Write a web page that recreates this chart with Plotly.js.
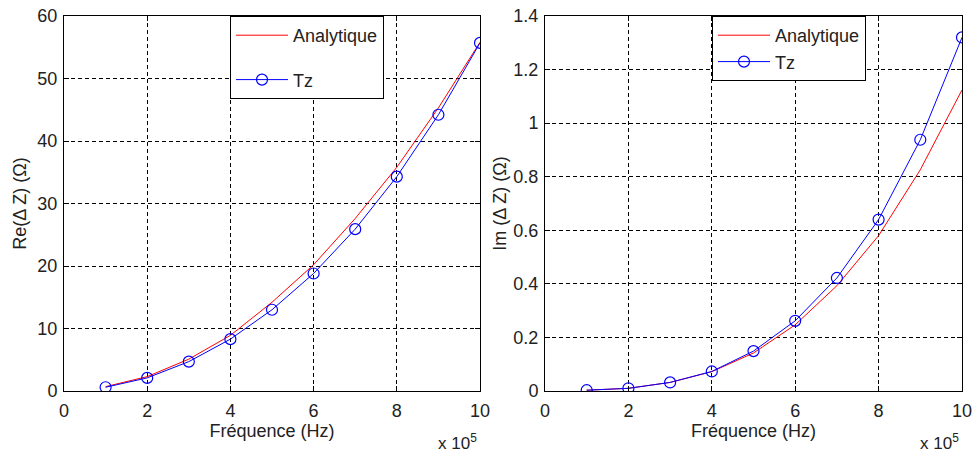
<!DOCTYPE html>
<html>
<head>
<meta charset="utf-8">
<script src="https://cdn.plot.ly/plotly-3.0.1.min.js"></script>
<style>html,body{margin:0;padding:0;background:#fff;}#chart{width:972px;height:457px;}</style>
</head>
<body>
<div id="chart"></div>
<script>
// Frequency in units of 10^5 Hz
const freq = [1, 2, 3, 4, 5, 6, 7, 8, 9, 10];
const reAnalytique = [0.7, 2.3, 5.1, 8.9, 14.2, 20.2, 27.6, 35.8, 45.3, 55.8];
const reTz = [0.6, 2.1, 4.7, 8.3, 13.0, 18.8, 25.9, 34.3, 44.2, 55.7];
const imAnalytique = [0.003, 0.01, 0.032, 0.072, 0.142, 0.247, 0.393, 0.58, 0.826, 1.124];
const imTz = [0.003, 0.01, 0.032, 0.073, 0.149, 0.262, 0.422, 0.64, 0.938, 1.32];
const xTicks = [0, 2, 4, 6, 8, 10];
const reTicks = [0, 10, 20, 30, 40, 50, 60];
const imTicks = [0, 0.2, 0.4, 0.6, 0.8, 1, 1.2, 1.4];
const imTickText = ['0', '0.2', '0.4', '0.6', '0.8', '1', '1.2', '1.4'];

const FONT = 'Liberation Sans, Arial, sans-serif';
const TXT = '#222';
const red = '#ff0000', blue = '#0000ff';

const traces = [
  {x: freq, y: reAnalytique, name: 'Analytique', mode: 'lines', line: {color: red, width: 1},
   xaxis: 'x', yaxis: 'y', legend: 'legend', legendgroup: 'a'},
  {x: freq, y: reTz, name: 'Tz', mode: 'lines+markers', line: {color: blue, width: 1},
   marker: {symbol: 'circle-open', size: 11, color: blue, line: {width: 1.2, color: blue}},
   xaxis: 'x', yaxis: 'y', legend: 'legend', legendgroup: 'b'},
  {x: freq, y: imAnalytique, name: 'Analytique', mode: 'lines', line: {color: red, width: 1},
   xaxis: 'x2', yaxis: 'y2', legend: 'legend2', legendgroup: 'c'},
  {x: freq, y: imTz, name: 'Tz', mode: 'lines+markers', line: {color: blue, width: 1},
   marker: {symbol: 'circle-open', size: 11, color: blue, line: {width: 1.2, color: blue}},
   xaxis: 'x2', yaxis: 'y2', legend: 'legend2', legendgroup: 'd'}
];

function xax(domain, anchor) {
  return {
    domain: domain, anchor: anchor, range: [0, 10], tickmode: 'array', tickvals: xTicks,
    ticks: 'inside', ticklen: 5, tickcolor: '#000', showline: true, linecolor: '#000', linewidth: 1, mirror: 'ticks',
    showgrid: true, gridcolor: '#000', griddash: '4px,3px', gridwidth: 1, zeroline: false,
    tickfont: {family: FONT, size: 18, color: TXT}, ticklabelstandoff: 3, automargin: false,
    ticklabeloverflow: 'allow',
    title: {text: 'Fréquence (Hz)', font: {family: FONT, size: 18, color: TXT}, standoff: 4}
  };
}
function yax(domain, anchor, range, vals, text, title, standoff) {
  const a = {
    domain: domain, anchor: anchor, range: range, tickmode: 'array', tickvals: vals,
    ticks: 'inside', ticklen: 5, tickcolor: '#000', showline: true, linecolor: '#000', linewidth: 1, mirror: 'ticks',
    showgrid: true, gridcolor: '#000', griddash: '4px,3px', gridwidth: 1, zeroline: false,
    tickfont: {family: FONT, size: 18, color: TXT}, ticklabelstandoff: 2, automargin: false,
    ticklabeloverflow: 'allow',
    title: {text: title, font: {family: FONT, size: 18, color: TXT}, standoff: standoff}
  };
  if (text) a.ticktext = text;
  return a;
}

const layout = {
  width: 972, height: 457,
  margin: {l: 0, r: 0, t: 16, b: 66},
  paper_bgcolor: '#fff', plot_bgcolor: '#fff',
  font: {family: FONT, size: 18, color: TXT},
  xaxis: xax([64/972, 480/972], 'y'),
  yaxis: yax([0, 1], 'x', [0, 60], reTicks, null, 'Re(Δ Z) (Ω)', 6),
  xaxis2: xax([545/972, 962/972], 'y2'),
  yaxis2: yax([0, 1], 'x2', [0, 1.4], imTicks, imTickText, 'Im (Δ Z) (Ω)', 2),
  legend: {x: 230/972, y: 1, xanchor: 'left', yanchor: 'top', bgcolor: '#fff', bordercolor: '#000', borderwidth: 1,
           font: {family: FONT, size: 18, color: TXT}, traceorder: 'grouped', tracegroupgap: 18, itemwidth: 52},
  legend2: {x: 712/972, y: 1, xanchor: 'left', yanchor: 'top', bgcolor: '#fff', bordercolor: '#000', borderwidth: 1,
           font: {family: FONT, size: 18, color: TXT}, traceorder: 'grouped', tracegroupgap: 0, itemwidth: 52},
  showlegend: true,
  annotations: [
    {text: 'x 10<sup>5</sup>', xref: 'paper', yref: 'paper', x: 479/972, y: -0.1, xanchor: 'right', yanchor: 'top',
     showarrow: false, font: {family: FONT, size: 17, color: TXT}},
    {text: 'x 10<sup>5</sup>', xref: 'paper', yref: 'paper', x: 961/972, y: -0.1, xanchor: 'right', yanchor: 'top',
     showarrow: false, font: {family: FONT, size: 17, color: TXT}}
  ]
};

Plotly.newPlot('chart', traces, layout, {displayModeBar: false, staticPlot: true});
</script>
</body>
</html>
